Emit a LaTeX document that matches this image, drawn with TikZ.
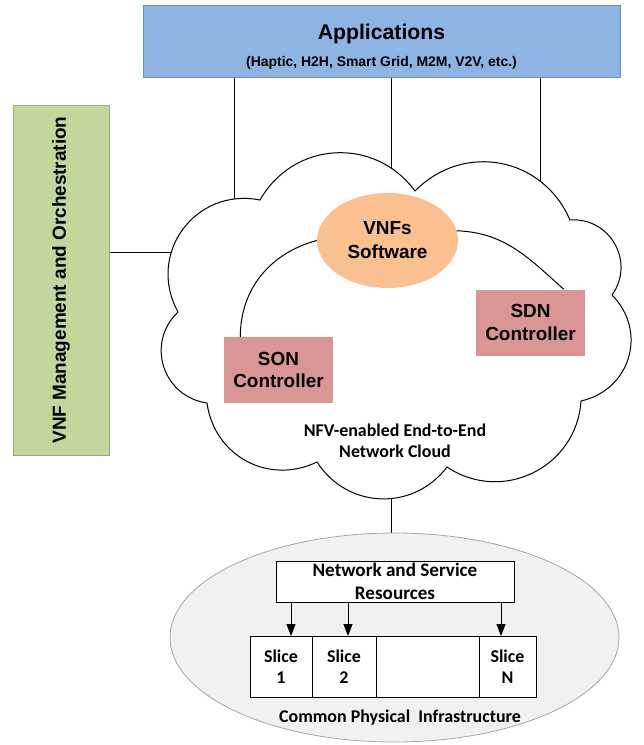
\documentclass[tikz,border=0pt]{standalone}
\usepackage{graphicx}
\usepackage{fontspec}
\setmainfont{Liberation Sans}
\newfontfamily\calibri{Carlito}
\usetikzlibrary{shapes,arrows.meta,positioning,backgrounds}

\definecolor{appblue}{HTML}{8EB4E3}
\definecolor{appedge}{HTML}{6A8CBE}
\definecolor{mgmtgreen}{HTML}{C3D69B}
\definecolor{mgmtedge}{HTML}{98A97A}
\definecolor{vnforange}{HTML}{FAC090}
\definecolor{ctrlred}{HTML}{D99694}
\definecolor{infragray}{HTML}{F1F1F1}
\definecolor{infraedge}{HTML}{A6A6A6}

\tikzset{
  appbox/.style={rectangle, fill=appblue, draw=appedge, line width=0.8bp,
    minimum width=477bp, minimum height=72bp},
  mgmtbox/.style={rectangle, fill=mgmtgreen, draw=mgmtedge, line width=0.8bp,
    minimum width=96bp, minimum height=350bp, font=\bfseries\fontsize{19}{23}\selectfont},
  ctrlbox/.style={rectangle, fill=ctrlred, minimum width=109bp, minimum height=66bp,
    align=center, font=\bfseries\fontsize{19}{23}\selectfont},
  vnfblob/.style={ellipse, fill=vnforange, minimum width=141bp, minimum height=95bp,
    inner sep=0pt, align=center, font=\bfseries\fontsize{19}{24}\selectfont},
  cloudtxt/.style={align=center, font=\calibri\bfseries\fontsize{18}{21}\selectfont},
  resbox/.style={rectangle, draw, fill=white, line width=1bp, minimum width=238bp,
    minimum height=41bp, align=center, inner sep=0pt,
    font=\calibri\bfseries\fontsize{19.2}{22.5}\selectfont},
  slicebox/.style={rectangle, draw, fill=white, line width=1bp, outer sep=0pt,
    minimum height=61bp, align=center, inner sep=0pt,
    font=\calibri\bfseries\fontsize{18}{21}\selectfont},
  link/.style={line width=1bp},
  feed/.style={line width=1bp, -{Triangle[length=12bp,width=9bp]}}
}

\begin{document}
\begin{tikzpicture}[x=1bp, y=1bp]
\useasboundingbox (0,0) rectangle (644,-745);

% Applications
\node[appbox] (apps) at (381.5,-41) {};
\node[align=center, font=\bfseries\fontsize{21}{27}\selectfont] (appslbl) at (381.5,-47)
  {{\fontsize{21.3}{27}\selectfont Applications}\\
   {\fontsize{14}{17}\selectfont (Haptic, H2H, Smart Grid, M2M, V2V, etc.)}};

% VNF management
\node[mgmtbox] (mgmt) at (61,-280) {\rotatebox{90}{VNF Management and Orchestration}};

% Network cloud
\draw[link, fill=white]
  (178,-312) to[bend left=65, looseness=1.22] (260,-200)
             to[bend left=57, looseness=1.12] (415,-191)
             to[bend left=56, looseness=1.12] (570,-220)
             to[bend left=65, looseness=1.2] (612,-295)
             to[bend left=61, looseness=1.18] (581,-401)
             to[bend left=60, looseness=1.14] (447,-467)
             to[bend left=55, looseness=1.1] (317,-462)
             to[bend left=54, looseness=1.1] (207,-403)
             to[bend left=64, looseness=1.2] (178,-312);

% points just inside the cloud edge
\foreach \n/\x/\y in {1/234/212, 2/391/175, 3/540/190}
  \coordinate (cl\n) at (\x,-\y);
\coordinate (clw) at (184,-252);
\coordinate (clb) at (391,-490);

% Inside the cloud
\node[vnfblob] (vnf) at (387.5,-240.5) {VNFs\\Software};
\node[ctrlbox] (son) at (278.5,-370) {SON\\Controller};
\node[ctrlbox] (sdn) at (530.5,-322.5) {SDN\\Controller};
\node[cloudtxt] (cloudlbl) at (395,-441) {NFV-enabled End-to-End\\Network Cloud};

\draw[link] (son.139) to[out=90, in=195] (vnf.west);
\draw[link] (vnf.8) to[out=-2, in=138] (sdn.45);

% Physical infrastructure
\node[ellipse, fill=infragray, draw=infraedge, line width=0.8bp,
  minimum width=449bp, minimum height=209bp] (infra) at (394.5,-637.5) {};
\node[resbox] (nsr) at (395,-581.5) {Network and Service\\Resources};
\node[slicebox, minimum width=62bp] (s1) at (281,-666.5) {Slice\\1};
\node[slicebox, minimum width=64bp, right=0pt of s1] (s2) {Slice\\2};
\node[slicebox, minimum width=103bp, right=0pt of s2] (sgap) {};
\node[slicebox, minimum width=57bp, right=0pt of sgap] (sn) {Slice\\N};
\node[cloudtxt] (infralbl) at (400,-718) {Common Physical~~Infrastructure};

\foreach \s/\dx in {s1/10, s2/4, sn/-6.5}
  \draw[feed] ([xshift=\dx bp]\s.north |- nsr.south) -- ([xshift=\dx bp]\s.north);

% connectors under the cloud
\begin{scope}[on background layer]
  \foreach \n in {1,2,3}
    \draw[link] (apps.south -| cl\n) -- (cl\n);
  \draw[link] (mgmt.east |- clw) -- (clw);
  \draw[link] (clb) -- (clb |- infra.north);
\end{scope}
\end{tikzpicture}
\end{document}
